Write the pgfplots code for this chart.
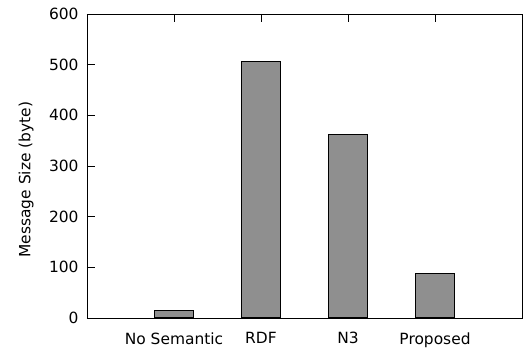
\documentclass[border=0pt]{standalone}
\usepackage{pgfplots}
\pgfplotsset{compat=1.18}
\usepackage{fontspec}
\setmainfont{DejaVu Sans}
\definecolor{bargray}{HTML}{8F8F8F}
\begin{document}
\begin{tikzpicture}
\useasboundingbox (-87bp,-30bp) rectangle (436bp,318bp);
\begin{axis}[
  at={(0,0)}, anchor=south west,
  scale only axis,
  width=435bp, height=304bp,
  xmin=0, xmax=5, ymin=0, ymax=600,
  xtick={1,2,3,4},
  xticklabels={No Semantic, RDF, N3, Proposed},
  xtick pos=upper, xticklabel pos=lower,
  ytick={0,100,...,600},
  ytick pos=left,
  tick align=inside,
  major tick length=8bp,
  axis line style={line width=1pt},
  every tick/.style={black, line width=1pt},
  tick label style={font=\fontsize{15.5}{18}\selectfont},
  /pgf/number format/assume math mode=true,
  ylabel={Message Size (byte)},
  ylabel style={font=\fontsize{15.5}{18}\selectfont, at={(axis description cs:-0.140,0.455)}, anchor=center, rotate=0},
  yticklabel style={xshift=-5bp},
  xticklabel style={yshift=-11bp},
]
\addplot[ybar, bar width=39bp, fill=bargray, draw=black, line width=1.1pt] coordinates {
  (1,15) (2,507) (3,363) (4,88)
};
\end{axis}
\end{tikzpicture}
\end{document}
